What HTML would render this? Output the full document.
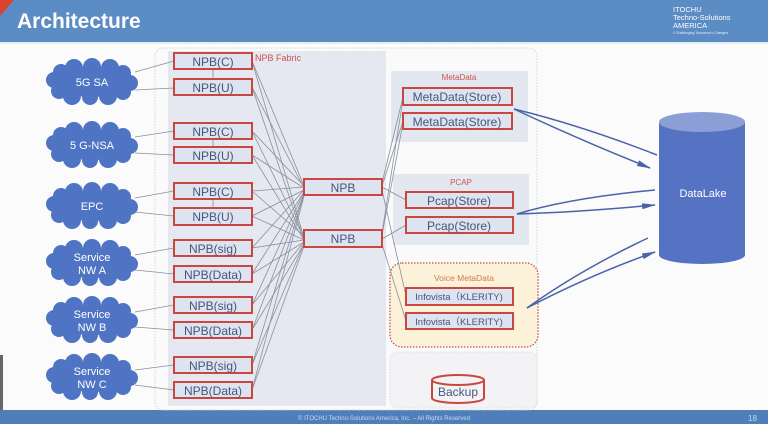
<!DOCTYPE html>
<html><head><meta charset="utf-8"><style>
html,body{margin:0;padding:0;background:#fff;}
svg{display:block;font-family:"Liberation Sans",sans-serif;}
</style></head><body>
<svg width="768" height="424" viewBox="0 0 768 424" xmlns="http://www.w3.org/2000/svg">
<defs>
<g id="cloud">
<ellipse cx="0" cy="0" rx="38" ry="15"/>
<circle cx="-38" cy="-2" r="8"/><circle cx="-31" cy="-10" r="8"/><circle cx="-18" cy="-14" r="9"/>
<circle cx="0" cy="-15" r="9"/><circle cx="18" cy="-14" r="9"/><circle cx="31" cy="-9" r="8"/>
<circle cx="38" cy="1" r="8"/><circle cx="31" cy="10" r="8"/><circle cx="16" cy="14" r="9"/>
<circle cx="-2" cy="15" r="8"/><circle cx="-20" cy="14" r="9"/><circle cx="-33" cy="9" r="8"/>
</g>
<marker id="ah" markerWidth="14" markerHeight="8" refX="13" refY="4" orient="auto" markerUnits="userSpaceOnUse"><path d="M0,1 L14,4 L0,7 z" fill="#4a63a8"/></marker>
</defs>
<rect width="768" height="424" fill="#fbfbfc"/>
<rect x="0" y="0" width="768" height="42" fill="#5b8cc4"/>
<rect x="0" y="42" width="768" height="2" fill="#e6eef7"/>
<path d="M0,0 L14,0 L0,16 z" fill="#d9442e"/>
<text x="17" y="28" font-size="21" font-weight="bold" fill="#fff">Architecture</text>
<text x="673" y="12" font-size="7.5" fill="#fff">ITOCHU</text>
<text x="673" y="20" font-size="7.5" fill="#fff">Techno-Solutions</text>
<text x="673" y="28" font-size="7.5" fill="#fff">AMERICA</text>
<text x="673" y="34" font-size="3.5" fill="#e8eef7">// Challenging Tomorrow's Changes</text>
<rect x="0" y="410" width="768" height="14" fill="#4f7fba"/>
<text x="384" y="420" font-size="6" fill="#c9d8ec" text-anchor="middle">© ITOCHU Techno-Solutions America, Inc. – All Rights Reserved</text>
<text x="748" y="421" font-size="8" fill="#c9d8ec">18</text>
<rect x="0" y="355" width="3" height="55" fill="#666"/>
<rect x="155" y="48" width="382" height="362" rx="8" fill="#fafafb" stroke="#d4d6dc" stroke-dasharray="1.5,1.5"/>
<rect x="168" y="51" width="218" height="355" fill="#e5e8f0"/>
<text x="255" y="61" font-size="9" fill="#d0504d">NPB Fabric</text>
<rect x="391" y="71" width="137" height="71" fill="#e3e7f0"/>
<text x="459" y="80" font-size="8" fill="#d0504d" text-anchor="middle">MetaData</text>
<rect x="393" y="174" width="136" height="71" fill="#e3e7f0"/>
<text x="461" y="185" font-size="8" fill="#d0504d" text-anchor="middle">PCAP</text>
<rect x="390" y="263" width="148" height="84" rx="12" fill="#fcf2d9" stroke="#c0504d" stroke-width="1.3" stroke-dasharray="1.5,1.5"/>
<text x="464" y="281" font-size="8.5" fill="#d07a4d" text-anchor="middle">Voice MetaData</text>
<rect x="390" y="352" width="147" height="56" rx="8" fill="#f3f3f5" stroke="#dedede" stroke-dasharray="1.5,1.5"/>
<g stroke="#8a8f9c" stroke-width="0.8" fill="none">
<line x1="252" y1="61" x2="304" y2="186"/><line x1="252" y1="61" x2="304" y2="238"/>
<line x1="252" y1="87" x2="304" y2="188"/><line x1="252" y1="87" x2="304" y2="240"/>
<line x1="252" y1="131" x2="304" y2="186"/><line x1="252" y1="131" x2="304" y2="238"/>
<line x1="252" y1="155" x2="304" y2="188"/><line x1="252" y1="155" x2="304" y2="240"/>
<line x1="252" y1="191" x2="304" y2="187"/><line x1="252" y1="191" x2="304" y2="236"/>
<line x1="252" y1="216" x2="304" y2="190"/><line x1="252" y1="216" x2="304" y2="240"/>
<line x1="252" y1="248" x2="304" y2="190"/><line x1="252" y1="248" x2="304" y2="240"/>
<line x1="252" y1="274" x2="304" y2="192"/><line x1="252" y1="274" x2="304" y2="242"/>
<line x1="252" y1="305" x2="304" y2="192"/><line x1="252" y1="305" x2="304" y2="242"/>
<line x1="252" y1="330" x2="304" y2="194"/><line x1="252" y1="330" x2="304" y2="244"/>
<line x1="252" y1="365" x2="304" y2="194"/><line x1="252" y1="365" x2="304" y2="244"/>
<line x1="252" y1="390" x2="304" y2="196"/><line x1="252" y1="390" x2="304" y2="246"/>
<line x1="382" y1="183" x2="403" y2="97"/><line x1="382" y1="186" x2="403" y2="121"/>
<line x1="382" y1="187" x2="406" y2="200"/><line x1="382" y1="190" x2="406" y2="296"/>
<line x1="382" y1="233" x2="403" y2="99"/><line x1="382" y1="235" x2="403" y2="123"/>
<line x1="382" y1="239" x2="406" y2="225"/><line x1="382" y1="244" x2="406" y2="321"/>
<line x1="213" y1="69" x2="213" y2="78"/><line x1="213" y1="139" x2="213" y2="147"/><line x1="213" y1="199" x2="213" y2="207"/>
<line x1="135" y1="72" x2="174" y2="61"/><line x1="135" y1="90" x2="174" y2="88"/>
<line x1="135" y1="137" x2="174" y2="131"/><line x1="135" y1="153" x2="174" y2="155"/>
<line x1="135" y1="198" x2="174" y2="191"/><line x1="135" y1="212" x2="174" y2="216"/>
<line x1="135" y1="255" x2="174" y2="248"/><line x1="135" y1="270" x2="174" y2="274"/>
<line x1="135" y1="312" x2="174" y2="305"/><line x1="135" y1="327" x2="174" y2="330"/>
<line x1="135" y1="370" x2="174" y2="365"/><line x1="135" y1="385" x2="174" y2="390"/>
</g>
<g fill="#4f74c3">
<use href="#cloud" transform="translate(92,82)"/>
<use href="#cloud" transform="translate(92,145)"/>
<use href="#cloud" transform="translate(92,206)"/>
<use href="#cloud" transform="translate(92,263)"/>
<use href="#cloud" transform="translate(92,320)"/>
<use href="#cloud" transform="translate(92,377)"/>
</g>
<g fill="#fff" font-size="11" text-anchor="middle">
<text x="92" y="86">5G SA</text>
<text x="92" y="149">5 G-NSA</text>
<text x="92" y="210">EPC</text>
<text x="92" y="261">Service</text><text x="92" y="274">NW A</text>
<text x="92" y="318">Service</text><text x="92" y="331">NW B</text>
<text x="92" y="375">Service</text><text x="92" y="388">NW C</text>
</g>
<g fill="#dde3ef" stroke="#c9473f" stroke-width="2">
<rect x="174" y="53" width="78" height="16"/><rect x="174" y="79" width="78" height="16"/>
<rect x="174" y="123" width="78" height="16"/><rect x="174" y="147" width="78" height="16"/>
<rect x="174" y="183" width="78" height="16"/><rect x="174" y="208" width="78" height="17"/>
<rect x="174" y="240" width="78" height="16"/><rect x="174" y="266" width="78" height="16"/>
<rect x="174" y="297" width="78" height="16"/><rect x="174" y="322" width="78" height="16"/>
<rect x="174" y="357" width="78" height="16"/><rect x="174" y="382" width="78" height="16"/>
<rect x="304" y="179" width="78" height="16"/><rect x="304" y="230" width="78" height="17"/>
<rect x="403" y="88" width="109" height="17"/><rect x="403" y="113" width="109" height="16"/>
<rect x="406" y="192" width="107" height="16"/><rect x="406" y="217" width="107" height="16"/>
<rect x="406" y="288" width="107" height="17"/><rect x="406" y="313" width="107" height="16"/>
</g>
<g fill="#45557e" font-size="12" text-anchor="middle">
<text x="213" y="66">NPB(C)</text><text x="213" y="92">NPB(U)</text>
<text x="213" y="136">NPB(C)</text><text x="213" y="160">NPB(U)</text>
<text x="213" y="196">NPB(C)</text><text x="213" y="221">NPB(U)</text>
<text x="213" y="253">NPB(sig)</text><text x="213" y="279">NPB(Data)</text>
<text x="213" y="310">NPB(sig)</text><text x="213" y="335">NPB(Data)</text>
<text x="213" y="370">NPB(sig)</text><text x="213" y="395">NPB(Data)</text>
<text x="343" y="192">NPB</text><text x="343" y="243">NPB</text>
<text x="457" y="101">MetaData(Store)</text><text x="457" y="126">MetaData(Store)</text>
<text x="459" y="205">Pcap(Store)</text><text x="459" y="230">Pcap(Store)</text>
<text x="459" y="300" font-size="9.5">Infovista（KLERITY)</text><text x="459" y="325" font-size="9.5">Infovista（KLERITY)</text>
</g>
<path d="M432,380 L432,398 A26,5 0 0 0 484,398 L484,380" fill="#f3f3f5" stroke="#c9473f" stroke-width="2"/>
<ellipse cx="458" cy="380" rx="26" ry="5" fill="#f3f3f5" stroke="#c9473f" stroke-width="2"/>
<text x="458" y="396" font-size="12" fill="#45557e" text-anchor="middle">Backup</text>
<path d="M659,122 L659,255 A43,9 0 0 0 745,255 L745,122 z" fill="#5672c3"/>
<ellipse cx="702" cy="122" rx="43" ry="10" fill="#8b9fd6"/>
<text x="703" y="197" font-size="11" fill="#fff" text-anchor="middle">DataLake</text>
<g stroke="#4a63a8" stroke-width="1.5" fill="none">
<path d="M657,155 Q580,125 514,109"/>
<path d="M514,109 Q580,140 650,168" marker-end="url(#ah)"/>
<path d="M655,190 Q570,198 517,214"/>
<path d="M517,214 Q580,212 655,205" marker-end="url(#ah)"/>
<path d="M648,238 Q580,270 527,308"/>
<path d="M527,308 Q590,275 655,252" marker-end="url(#ah)"/>
</g>
</svg>
</body></html>
